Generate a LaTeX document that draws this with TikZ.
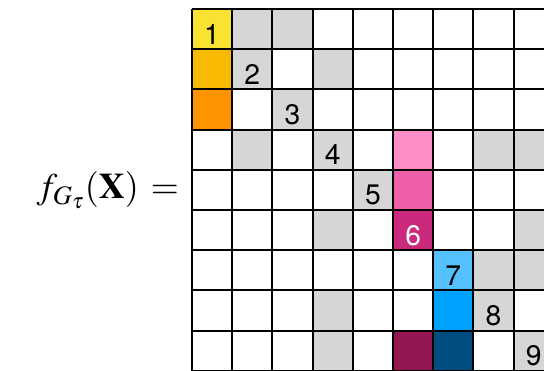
\documentclass[tikz,border=0pt]{standalone}
\usepackage{fontspec}
\setsansfont{TeX Gyre Heros}
\usepackage{mathptmx}
\definecolor{GTyellow}{HTML}{FAE232}
\definecolor{GTamber}{HTML}{F8BA00}
\definecolor{GTorange}{HTML}{FF9300}
\definecolor{GTpinkA}{HTML}{FF8EC6}
\definecolor{GTpinkB}{HTML}{EF5FA7}
\definecolor{GTpinkC}{HTML}{CB297B}
\definecolor{GTplum}{HTML}{941751}
\definecolor{GTblueA}{HTML}{56C1FF}
\definecolor{GTblueB}{HTML}{00A2FF}
\definecolor{GTblueC}{HTML}{004D80}
\definecolor{GTgray}{HTML}{D6D6D6}
\usetikzlibrary{positioning}

\begin{document}
\begin{tikzpicture}
            \useasboundingbox (-4.776,0.224) rectangle (8.756,-8.98);
            \clip (-4.776,0.224) rectangle (8.756,-8.98);
            \tikzset{
               gridline/.style={line width=1.5pt, black},
               digit/.style={font=\sffamily\fontsize{20}{22}\selectfont, inner sep=0pt}
            }
            % filled cells: row/column/colour
            \foreach \r/\c/\col in {
                  1/1/GTyellow, 1/2/GTgray, 1/3/GTgray,
                  2/1/GTamber, 2/2/GTgray, 2/4/GTgray,
                  3/1/GTorange, 3/3/GTgray,
                  4/2/GTgray, 4/4/GTgray, 4/6/GTpinkA, 4/8/GTgray, 4/9/GTgray,
                  5/5/GTgray, 5/6/GTpinkB,
                  6/4/GTgray, 6/6/GTpinkC, 6/9/GTgray,
                  7/7/GTblueA, 7/8/GTgray, 7/9/GTgray,
                  8/4/GTgray, 8/7/GTblueB, 8/8/GTgray,
                  9/4/GTgray, 9/6/GTplum, 9/7/GTblueC, 9/9/GTgray}
               \fill[\col] (\c-1,-\r) rectangle (\c,1-\r);
            \draw[gridline] (0,-9) grid (9,0);
            % diagonal numbers
            \foreach \i in {1,2,3,4,5,7,8,9}
               \node[digit] (d\i) at (\i-0.5,0.37-\i) {\i};
            \node[digit, white] (d6) at (5.5,-5.63) {6};
            % left hand side
            \node[anchor=east, inner sep=0pt, font=\fontsize{25.5}{28}\selectfont]
               (lhs) at (-0.32,-4.5) {$f_{G_\tau}(\mathbf{X})\,=$};
         \end{tikzpicture}
\end{document}
